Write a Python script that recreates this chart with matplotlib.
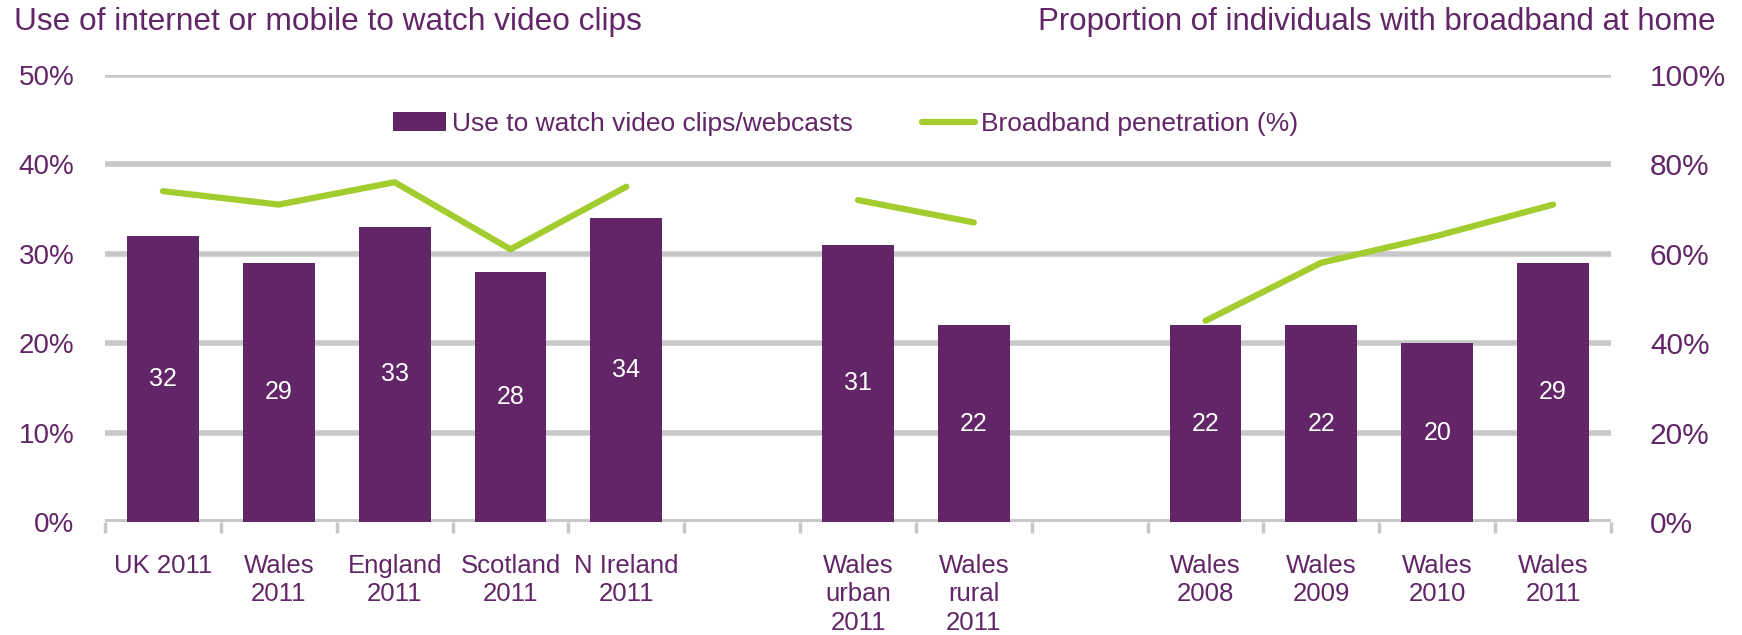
import matplotlib
matplotlib.use("Agg")
import matplotlib.pyplot as plt
import numpy as np

plt.rcParams['font.family'] = ['Liberation Sans', 'DejaVu Sans']

categories = ["UK 2011", "Wales\n2011", "England\n2011", "Scotland\n2011", "N Ireland\n2011", "",
              "Wales\nurban\n2011", "Wales\nrural\n2011", "",
              "Wales\n2008", "Wales\n2009", "Wales\n2010", "Wales\n2011"]
video = [32, 29, 33, 28, 34, None, 31, 22, None, 22, 22, 20, 29]
broadband = [74, 71, 76, 61, 75, None, 72, 67, None, 45, 58, 64, 71]
left_ticks = [0, 10, 20, 30, 40, 50]
right_ticks = [0, 20, 40, 60, 80, 100]

PURPLE = "#622567"
GREEN = "#A3CC2E"
GRID = "#C8C8C8"

fig = plt.figure(figsize=(17.42, 6.35), dpi=100)
ax = fig.add_axes([0.0603, 0.178, 0.8645, 0.704])
ax2 = ax.twinx()

x = np.arange(len(categories))
vals = np.array([np.nan if v is None else v for v in video], dtype=float)
bb = np.array([np.nan if v is None else v for v in broadband], dtype=float)

mask = ~np.isnan(vals)
ax.bar(x[mask], vals[mask], width=0.62, color=PURPLE, zorder=3,
       label="Use to watch video clips/webcasts")
for xi, v in zip(x[mask], vals[mask]):
    ax.text(xi, v / 2, f"{int(v)}", ha="center", va="center", color="white",
            fontsize=18, zorder=4)

ax2.plot(x, bb, color=GREEN, lw=4.5, solid_capstyle="round", zorder=5,
         label="Broadband penetration (%)")

ax.set_xlim(-0.5, len(categories) - 0.5)
ax.set_ylim(0, 50)
ax2.set_ylim(0, 100)
ax.set_yticks(left_ticks)
ax.set_yticklabels([f"{t}%" for t in left_ticks])
ax2.set_yticks(right_ticks)
ax2.set_yticklabels([f"{t}%" for t in right_ticks])

ax.yaxis.grid(True, color=GRID, lw=4, zorder=0)
ax.set_axisbelow(True)
for a in (ax, ax2):
    for s in ("top", "left", "right", "bottom"):
        a.spines[s].set_visible(False)
ax.tick_params(axis="y", length=0, labelsize=20, labelcolor=PURPLE, pad=22)
ax2.tick_params(axis="y", length=0, labelsize=21.5, labelcolor=PURPLE, pad=28)
ax.axhline(0, color=GRID, lw=4, zorder=2)

ax.set_xticks(x)
ax.set_xticklabels(categories, fontsize=18.5, color=PURPLE, linespacing=1.24, va="top")
ax.tick_params(axis="x", which="major", length=0, pad=23)
ax.set_xticks(np.arange(-0.5, len(categories), 1.0), minor=True)
ax.tick_params(axis="x", which="minor", length=8, width=2.5, color=GRID, direction="out")

fig.text(0.008, 0.965, "Use of internet or mobile to watch video clips", fontsize=22.8,
         color=PURPLE, ha="left", va="center")
fig.text(0.985, 0.965, "Proportion of individuals with broadband at home", fontsize=22.5,
         color=PURPLE, ha="right", va="center")

h1, l1 = ax.get_legend_handles_labels()
h2, l2 = ax2.get_legend_handles_labels()
leg = fig.legend(h1 + h2, l1 + l2, loc="center", bbox_to_anchor=(0.4855, 0.805), ncol=2,
                 frameon=False, fontsize=19, handlelength=2.0, handleheight=0.7,
                 columnspacing=2.6, handletextpad=0.25)
for t in leg.get_texts():
    t.set_color(PURPLE)

fig.savefig("out.png", dpi=100)
